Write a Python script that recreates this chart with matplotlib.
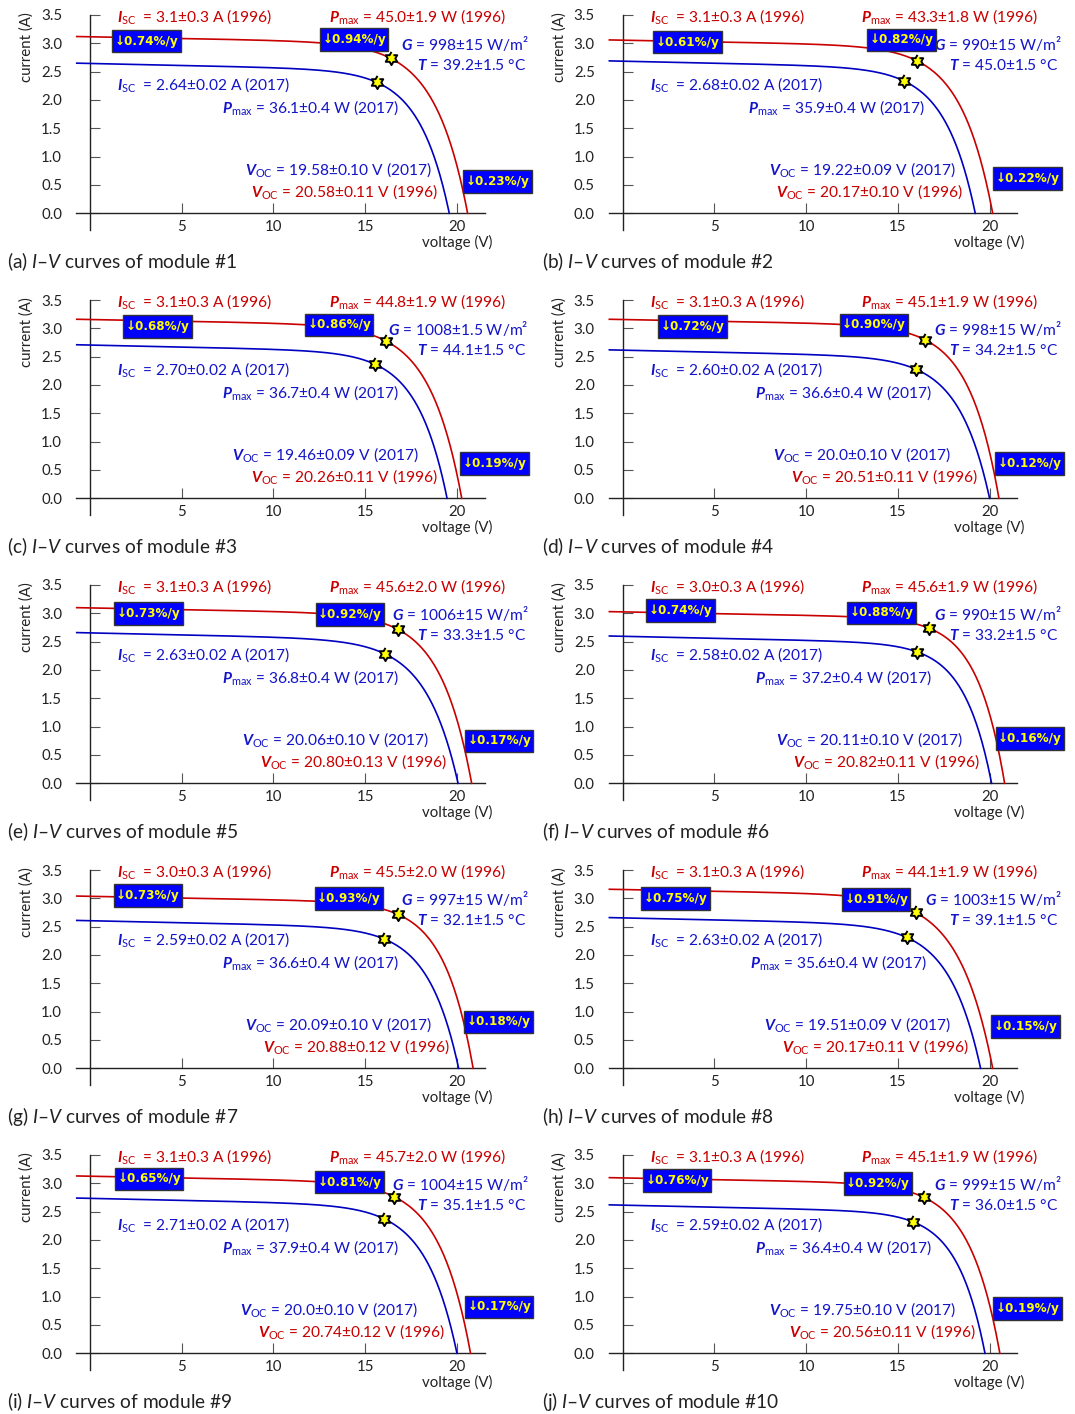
import numpy as np
import matplotlib.pyplot as plt

plt.rcParams['font.family'] = ['Lato', 'DejaVu Sans']
plt.rcParams['mathtext.fontset'] = 'custom'
plt.rcParams['mathtext.rm'] = 'Lato'
plt.rcParams['mathtext.it'] = 'Lato:italic'
plt.rcParams['mathtext.bf'] = 'Lato:bold'
try:
    plt.rcParams['mathtext.bfit'] = 'Lato:bold:italic'
except KeyError:
    pass

# ---- data ----
letters = ["a", "b", "c", "d", "e", "f", "g", "h", "i", "j"]
isc96_lbl = ["3.1±0.3", "3.1±0.3", "3.1±0.3", "3.1±0.3", "3.1±0.3",
             "3.0±0.3", "3.0±0.3", "3.1±0.3", "3.1±0.3", "3.1±0.3"]
pmax96_lbl = ["45.0±1.9", "43.3±1.8", "44.8±1.9", "45.1±1.9", "45.6±2.0",
              "45.6±1.9", "45.5±2.0", "44.1±1.9", "45.7±2.0", "45.1±1.9"]
isc17_lbl = ["2.64±0.02", "2.68±0.02", "2.70±0.02", "2.60±0.02", "2.63±0.02",
             "2.58±0.02", "2.59±0.02", "2.63±0.02", "2.71±0.02", "2.59±0.02"]
pmax17_lbl = ["36.1±0.4", "35.9±0.4", "36.7±0.4", "36.6±0.4", "36.8±0.4",
              "37.2±0.4", "36.6±0.4", "35.6±0.4", "37.9±0.4", "36.4±0.4"]
voc17_lbl = ["19.58±0.10", "19.22±0.09", "19.46±0.09", "20.0±0.10", "20.06±0.10",
             "20.11±0.10", "20.09±0.10", "19.51±0.09", "20.0±0.10", "19.75±0.10"]
voc96_lbl = ["20.58±0.11", "20.17±0.10", "20.26±0.11", "20.51±0.11", "20.80±0.13",
             "20.82±0.11", "20.88±0.12", "20.17±0.11", "20.74±0.12", "20.56±0.11"]
irr_lbl = ["998±15", "990±15", "1008±1.5", "998±15", "1006±15",
           "990±15", "997±15", "1003±15", "1004±15", "999±15"]
temp_lbl = ["39.2±1.5", "45.0±1.5", "44.1±1.5", "34.2±1.5", "33.3±1.5",
            "33.2±1.5", "32.1±1.5", "39.1±1.5", "35.1±1.5", "36.0±1.5"]
drop_isc = ["0.74", "0.61", "0.68", "0.72", "0.73", "0.74", "0.73", "0.75", "0.65", "0.76"]
drop_pmax = ["0.94", "0.82", "0.86", "0.90", "0.92", "0.88", "0.93", "0.91", "0.81", "0.92"]
drop_voc = ["0.23", "0.22", "0.19", "0.12", "0.17", "0.16", "0.18", "0.15", "0.17", "0.19"]

# curve anchors: open-circuit voltage, max power point (star), current at left end
voc96 = [20.58, 20.17, 20.26, 20.51, 20.80, 20.82, 20.88, 20.17, 20.74, 20.56]
voc17 = [19.58, 19.22, 19.46, 20.00, 20.06, 20.11, 20.09, 19.51, 20.00, 19.75]
vmp96 = [16.39, 16.05, 16.11, 16.47, 16.76, 16.72, 16.76, 15.97, 16.57, 16.44]
imp96 = [2.735, 2.69, 2.78, 2.80, 2.72, 2.735, 2.72, 2.75, 2.765, 2.75]
vmp17 = [15.64, 15.31, 15.54, 15.97, 16.10, 16.05, 16.05, 15.49, 16.05, 15.83]
imp17 = [2.31, 2.34, 2.365, 2.28, 2.28, 2.32, 2.28, 2.31, 2.37, 2.32]
istart96 = [3.12, 3.06, 3.16, 3.16, 3.10, 3.03, 3.04, 3.16, 3.13, 3.10]
istart17 = [2.65, 2.69, 2.71, 2.62, 2.66, 2.60, 2.61, 2.66, 2.74, 2.62]

# ---- layout of the annotations (data coords) ----
badge1_x = [3.09, 3.53, 3.67, 3.80, 3.20, 3.16, 3.16, 2.88, 3.22, 2.97]
badge1_y = [3.04, 3.02, 3.03, 3.03, 3.00, 3.05, 3.05, 3.00, 3.08, 3.05]
badge2_x = [14.4, 15.2, 13.58, 13.7, 14.16, 14.1, 14.1, 13.82, 14.16, 13.91]
badge2_y = [3.07, 3.06, 3.06, 3.06, 2.98, 3.01, 3.00, 2.98, 3.02, 3.00]
badge3_x = [22.2, 22.08, 22.04, 22.17, 22.3, 22.19, 22.25, 21.97, 22.3, 22.08]
badge3_y = [0.56, 0.61, 0.61, 0.61, 0.75, 0.79, 0.82, 0.735, 0.82, 0.79]
pmax17_end = [16.85, 16.48, 16.85, 16.85, 16.85, 16.85, 16.85, 16.57, 16.85, 16.85]
voc17_end = [18.63, 18.18, 17.94, 17.87, 18.45, 18.52, 18.63, 17.87, 17.88, 18.18]
voc96_end = [18.95, 18.55, 18.95, 19.35, 19.44, 19.48, 19.63, 18.85, 19.34, 19.22]

RED = "#c80000"
BLUE = "#0000c0"
TXT_BLUE = "#1414c8"


def iv_curve(v0, i_start, voc, vmp, imp, g):
    il = i_start + g * v0
    base = il - g * voc

    def model(v, vt):
        return il - g * v - base * np.expm1(v / vt) / np.expm1(voc / vt)

    lo, hi = 0.05, 8.0
    for _ in range(80):
        mid = 0.5 * (lo + hi)
        if model(vmp, mid) > imp:
            lo = mid
        else:
            hi = mid
    v = np.linspace(v0, voc, 400)
    return v, model(v, 0.5 * (lo + hi))


# six-pointed star marker
ang = np.pi / 2 + np.arange(12) * np.pi / 6
rad = np.where(np.arange(12) % 2 == 0, 1.0, 0.58)
star = np.column_stack([rad * np.cos(ang), rad * np.sin(ang)])

W, H = 1075, 1414
fig = plt.figure(figsize=(W / 100, H / 100), dpi=100)
lefts = [76.2, 608.8]
axw, axh = 408.3, 215.3

for k in range(10):
    r, c = divmod(k, 2)
    top = 15 + 285 * r
    ax = fig.add_axes([lefts[c] / W, 1 - (top + axh) / H, axw / W, axh / H])
    ax.set_xlim(-0.75, 21.5)
    ax.set_ylim(-0.3, 3.5)
    for s in ["top", "right"]:
        ax.spines[s].set_visible(False)
    ax.spines["left"].set_position(("data", 0))
    ax.spines["bottom"].set_position(("data", 0))
    for s in ["left", "bottom"]:
        ax.spines[s].set_color("#222222")
        ax.spines[s].set_linewidth(1.0)
    ax.set_xticks([5, 10, 15, 20])
    ax.set_yticks(np.arange(0, 3.51, 0.5))
    ax.set_yticklabels([f"{y:.1f}" for y in np.arange(0, 3.51, 0.5)])
    ax.tick_params(axis="y", direction="in", length=7, pad=20, labelsize=10.8,
                   color="#555555", labelcolor="#222222")
    ax.tick_params(axis="x", direction="in", length=7, pad=4.5, labelsize=10.8,
                   color="#555555", labelcolor="#222222")

    v, i = iv_curve(-0.72, istart96[k], voc96[k], vmp96[k], imp96[k], 0.006)
    ax.plot(v, i, color=RED, lw=1.2, zorder=3, clip_on=False)
    v, i = iv_curve(-0.72, istart17[k], voc17[k], vmp17[k], imp17[k], 0.007)
    ax.plot(v, i, color=BLUE, lw=1.2, zorder=3, clip_on=False)
    ax.plot([vmp96[k], vmp17[k]], [imp96[k], imp17[k]], ls="none", marker=star,
            ms=9.5, mfc="#ffff00", mec="black", mew=1.4, zorder=5)

    kw = dict(fontsize=11.2, va="center", clip_on=False)
    ax.text(1.5, 3.47, r"$\mathbfit{I}_{\mathrm{SC}}$  = " + isc96_lbl[k] + " A (1996)",
            color=RED, ha="left", **kw)
    ax.text(13.0, 3.47, r"$\mathbfit{P}_{\mathrm{max}}$ = " + pmax96_lbl[k] + " W (1996)",
            color=RED, ha="left", **kw)
    ax.text(23.9, 3.0, r"$\mathbfit{G}$ = " + irr_lbl[k] + " W/m²",
            color=TXT_BLUE, ha="right", **kw)
    ax.text(23.75, 2.6, r"$\mathbfit{T}$ = " + temp_lbl[k] + " °C",
            color=TXT_BLUE, ha="right", **kw)
    ax.text(1.5, 2.27, r"$\mathbfit{I}_{\mathrm{SC}}$  = " + isc17_lbl[k] + " A (2017)",
            color=TXT_BLUE, ha="left", **kw)
    ax.text(pmax17_end[k], 1.86, r"$\mathbfit{P}_{\mathrm{max}}$ = " + pmax17_lbl[k] + " W (2017)",
            color=TXT_BLUE, ha="right", **kw)
    ax.text(voc17_end[k], 0.78, r"$\mathbfit{V}_{\mathrm{OC}}$ = " + voc17_lbl[k] + " V (2017)",
            color=TXT_BLUE, ha="right", **kw)
    ax.text(voc96_end[k], 0.38, r"$\mathbfit{V}_{\mathrm{OC}}$ = " + voc96_lbl[k] + " V (1996)",
            color=RED, ha="right", **kw)

    bkw = dict(ha="center", va="center", color="#ffff00", fontsize=9.5,
               family="DejaVu Sans", fontweight="bold", fontstretch="condensed",
               zorder=6, clip_on=False,
               bbox=dict(boxstyle="square,pad=0.18", mutation_aspect=2.0,
                         fc="#0000ff", ec="#333333", lw=1))
    ax.text(badge1_x[k], badge1_y[k], "↓" + drop_isc[k] + "%/y", **bkw)
    ax.text(badge2_x[k], badge2_y[k], "↓" + drop_pmax[k] + "%/y", **bkw)
    ax.text(badge3_x[k], badge3_y[k], "↓" + drop_voc[k] + "%/y", **bkw)

    ax.text(-3.43, 2.93, "current (A)", rotation=90, ha="center", va="center",
            fontsize=10.8, color="#222222", clip_on=False)
    ax.text(20, -0.51, "voltage (V)", ha="center", va="center",
            fontsize=10.8, color="#222222", clip_on=False)

    cap_x = [7, 542][c]
    fig.text(cap_x / W, 1 - (261.7 + 285 * r) / H,
             "(" + letters[k] + r") $\mathit{I}$–$\mathit{V}$ curves of module #" + str(k + 1),
             ha="left", va="center", fontsize=13.8, color="#222222")

fig.savefig("out.png", dpi=100)
